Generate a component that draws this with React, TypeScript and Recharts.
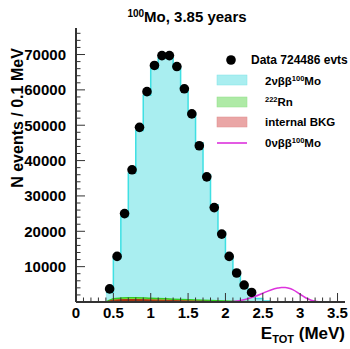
import React from "react";
import {
  ComposedChart,
  Area,
  Line,
  Scatter,
  XAxis,
  YAxis,
} from "recharts";

// ---- data ----
const dataEnergy = [0.45, 0.55, 0.65, 0.75, 0.85, 0.95, 1.05, 1.15, 1.25, 1.35, 1.45, 1.55, 1.65, 1.75, 1.85, 1.95, 2.05, 2.15, 2.25, 2.35];
const dataCounts = [3700, 12900, 25000, 37400, 49400, 59500, 66900, 69700, 69700, 66600, 60300, 53200, 44200, 35400, 26700, 19200, 12900, 8200, 4800, 2700];

const histEdges = [0.4, 0.5, 0.6, 0.7, 0.8, 0.9, 1.0, 1.1, 1.2, 1.3, 1.4, 1.5, 1.6, 1.7, 1.8, 1.9, 2.0, 2.1, 2.2, 2.3, 2.4, 2.5, 2.6];
const histTwoNu = [2700, 12500, 24200, 36500, 48500, 58500, 66000, 69000, 69000, 66500, 60500, 53500, 45000, 36000, 27500, 19800, 13000, 8000, 4600, 2400, 1000, 300, 300];

const rnEnergy = [0.4, 0.45, 0.5, 0.6, 0.7, 0.8, 1.0, 1.2, 1.4, 1.6, 1.8, 2.0, 2.2, 2.4, 2.6];
const rnCounts = [0, 500, 900, 1100, 1200, 1200, 1050, 900, 700, 550, 400, 250, 130, 50, 0];

const bkgEnergy = [0.4, 0.45, 0.5, 0.6, 0.7, 0.8, 1.0, 1.2, 1.4, 1.6, 1.8, 2.0, 2.2, 2.4];
const bkgCounts = [0, 300, 500, 650, 700, 700, 600, 480, 350, 250, 150, 80, 30, 0];

const zeroNuEnergy = [2.0, 2.1, 2.2, 2.3, 2.4, 2.5, 2.6, 2.7, 2.75, 2.8, 2.85, 2.9, 3.0, 3.1, 3.2, 3.25, 3.3];
const zeroNuCounts = [50, 150, 400, 900, 1600, 2500, 3350, 3950, 4100, 4100, 3900, 3500, 2200, 900, 200, 50, 0];

const xMajorTicks = [0, 0.5, 1, 1.5, 2, 2.5, 3, 3.5];
const yMajorTicks = [10000, 20000, 30000, 40000, 50000, 60000, 70000];
const xMinorStep = 0.1;
const yMinorStep = 2000;

const legendLabels = ["Data 724486 evts", "2νββ", "Rn", "internal BKG", "0νββ"];

// ---- derived tables ----
const dataPts = dataEnergy.map((e, i) => ({ e, v: dataCounts[i] }));
const histPts = histEdges.map((e, i) => ({ e, v: histTwoNu[i] }));
const rnPts = rnEnergy.map((e, i) => ({ e, v: rnCounts[i] }));
const bkgPts = bkgEnergy.map((e, i) => ({ e, v: bkgCounts[i] }));
const zeroNuPts = zeroNuEnergy.map((e, i) => ({ e, v: zeroNuCounts[i] }));

const xTicks: number[] = [];
for (let i = 0; i <= 35; i++) xTicks.push(Math.round(i * xMinorStep * 10) / 10);
const yTicks: number[] = [];
for (let v = 0; v <= 76000; v += yMinorStep) yTicks.push(v);

const FONT = "'Liberation Sans', Arial, Helvetica, sans-serif";
const Y_TICK_M = 10;
const X_TICK_M = 5;
const AX = "#333";

const YTick = (props: any) => {
  const { x, y, payload } = props;
  const v = payload.value;
  const major = yMajorTicks.includes(v);
  const ax = x + Y_TICK_M;
  return (
    <g>
      <line x1={ax} x2={ax + (major ? 9 : 4.5)} y1={y} y2={y} stroke={AX} strokeWidth={1} />
      {major && (
        <text x={x} y={y} textAnchor="end" dominantBaseline="central" fontFamily={FONT} fontWeight="bold" fontSize={15} fill="#000">
          {v}
        </text>
      )}
    </g>
  );
};

const XTick = (props: any) => {
  const { x, y, payload } = props;
  const v = payload.value;
  const major = xMajorTicks.some((m) => Math.abs(m - v) < 1e-6);
  const ay = y - X_TICK_M;
  return (
    <g>
      <line x1={x} x2={x} y1={ay} y2={ay - (major ? 9 : 4.5)} stroke={AX} strokeWidth={1} />
      {major && (
        <text x={x} y={y} textAnchor="middle" dominantBaseline="hanging" fontFamily={FONT} fontWeight="bold" fontSize={15} fill="#000">
          {v}
        </text>
      )}
    </g>
  );
};

const Dot = (props: any) => {
  const { cx, cy } = props;
  return <circle cx={cx} cy={cy} r={4.8} fill="#000" />;
};

export default function App() {
  return (
    <div style={{ position: "absolute", left: 0, top: 0, width: 350, height: 349, background: "#fff" }}>
      <ComposedChart width={350} height={349} margin={{ top: 28, right: 5, bottom: 0, left: 0 }}>
        <XAxis
          xAxisId="b"
          dataKey="e"
          type="number"
          domain={[0, 3.6]}
          allowDataOverflow
          ticks={xTicks}
          interval={0}
          tickSize={0}
          tickMargin={X_TICK_M}
          tickLine={false}
          tick={<XTick />}
          height={47}
          axisLine={{ stroke: AX, strokeWidth: 2 }}
        />
        <XAxis xAxisId="t" orientation="top" type="number" domain={[0, 3.6]} height={0} tick={false} tickLine={false} axisLine={{ stroke: AX, strokeWidth: 2 }} />
        <YAxis
          yAxisId="l"
          type="number"
          domain={[0, 77500]}
          allowDataOverflow
          ticks={yTicks}
          interval={0}
          tickSize={0}
          tickMargin={Y_TICK_M}
          tickLine={false}
          tick={<YTick />}
          width={76}
          axisLine={{ stroke: AX, strokeWidth: 2 }}
        />
        <YAxis yAxisId="r" orientation="right" type="number" domain={[0, 77500]} width={0} tick={false} tickLine={false} axisLine={{ stroke: AX, strokeWidth: 2 }} />

        <Area xAxisId="b" yAxisId="l" data={histPts} dataKey="v" type="stepAfter" stroke="#3fe0e3" strokeWidth={1.5} fill="#a9eef0" fillOpacity={1} isAnimationActive={false} dot={false} activeDot={false} />
        <Area xAxisId="b" yAxisId="l" data={rnPts} dataKey="v" type="monotone" stroke="#33cc22" strokeWidth={1.5} fill="#b6e85a" fillOpacity={1} isAnimationActive={false} dot={false} activeDot={false} />
        <Area xAxisId="b" yAxisId="l" data={bkgPts} dataKey="v" type="monotone" stroke="#aa3311" strokeWidth={1} fill="#a03010" fillOpacity={1} isAnimationActive={false} dot={false} activeDot={false} />
        <Line xAxisId="b" yAxisId="l" data={zeroNuPts} dataKey="v" type="monotone" stroke="#dd33dd" strokeWidth={1.6} dot={false} activeDot={false} isAnimationActive={false} />
        <Scatter xAxisId="b" yAxisId="l" data={dataPts} dataKey="v" shape={<Dot />} isAnimationActive={false} />
      </ComposedChart>

      <svg width={350} height={349} style={{ position: "absolute", left: 0, top: 0, pointerEvents: "none" }}>
        <text x={187} y={22} textAnchor="middle" fontFamily={FONT} fontWeight="bold" fontSize={15}>
          <tspan fontSize={10} dy={-5}>100</tspan>
          <tspan dy={5}>Mo, 3.85 years</tspan>
        </text>
        <text transform="translate(23,118) rotate(-90)" textAnchor="middle" fontFamily={FONT} fontWeight="bold" fontSize={16}>
          N events / 0.1 MeV
        </text>
        <text x={345} y={339} textAnchor="end" fontFamily={FONT} fontWeight="bold" fontSize={17}>
          E<tspan fontSize={11} dy={4}>TOT</tspan>
          <tspan dy={-4}> (MeV)</tspan>
        </text>

        {/* legend */}
        <circle cx={231} cy={60} r={4.8} fill="#000" />
        <text x={251} y={64} fontFamily={FONT} fontWeight="bold" fontSize={12}>{legendLabels[0]}</text>

        <rect x={217} y={75} width={30} height={10} fill="#a9eef0" stroke="#7fe4e6" strokeWidth={0.5} />
        <text x={265} y={85} fontFamily={FONT} fontWeight="bold" fontSize={11.5}>
          {legendLabels[1]}<tspan fontSize={7.5} dy={-4}>100</tspan><tspan dy={4}>Mo</tspan>
        </text>

        <rect x={217} y={97} width={30} height={10} fill="#aeeaa6" stroke="#90e088" strokeWidth={0.5} />
        <text x={265} y={106} fontFamily={FONT} fontWeight="bold" fontSize={11.5}>
          <tspan fontSize={7.5} dy={-4}>222</tspan><tspan dy={4}>{legendLabels[2]}</tspan>
        </text>

        <rect x={217} y={117} width={30} height={10} fill="#eaa6a6" stroke="#e08c8c" strokeWidth={0.5} />
        <text x={265} y={126} fontFamily={FONT} fontWeight="bold" fontSize={11.5}>{legendLabels[3]}</text>

        <line x1={217} x2={247} y1={143} y2={143} stroke="#dd33dd" strokeWidth={1.6} />
        <text x={265} y={147} fontFamily={FONT} fontWeight="bold" fontSize={11.5}>
          {legendLabels[4]}<tspan fontSize={7.5} dy={-4}>100</tspan><tspan dy={4}>Mo</tspan>
        </text>
      </svg>
    </div>
  );
}
